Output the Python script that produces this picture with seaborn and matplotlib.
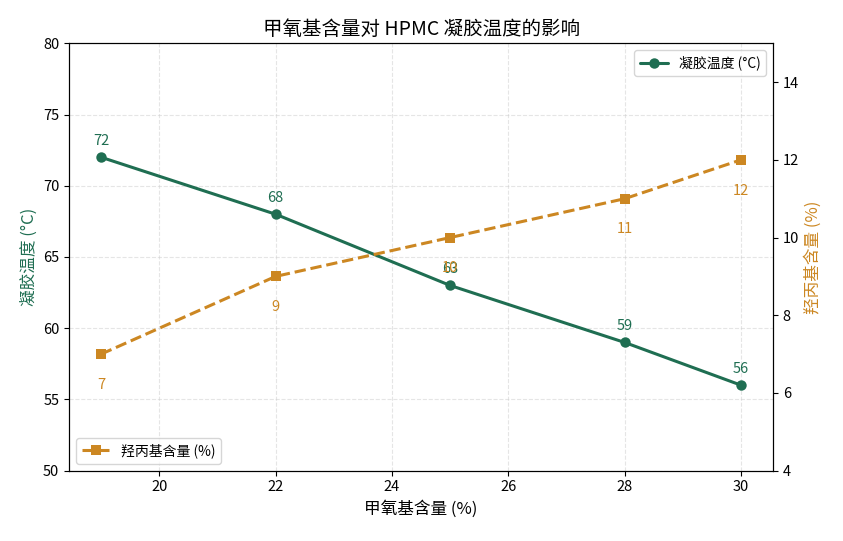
import pandas as pd
import matplotlib.pyplot as plt
import seaborn as sns

methoxy = [19, 22, 25, 28, 30]
gel_temp = [72, 68, 63, 59, 56]
hydroxypropyl = [7, 9, 10, 11, 12]

green = '#1f6e52'
orange = '#cc8722'

sns.set_style('ticks', {'axes.edgecolor': 'black', 'xtick.color': 'black',
                        'ytick.color': 'black', 'text.color': 'black',
                        'axes.labelcolor': 'black'})
plt.rcParams['font.family'] = ['Noto Sans CJK SC', 'DejaVu Sans']
plt.rcParams['axes.unicode_minus'] = False

df = pd.DataFrame({'x': methoxy, 'gel': gel_temp, 'hp': hydroxypropyl})

fig, ax1 = plt.subplots(figsize=(8.43, 5.41), dpi=100)
sns.lineplot(data=df, x='x', y='gel', ax=ax1, color=green, marker='o', markersize=7.5,
             linewidth=2.2, markeredgewidth=0, label='凝胶温度 (°C)')
ax1.set_ylim(50, 80)
ax1.set_xlabel('甲氧基含量 (%)', fontsize=12)
ax1.set_ylabel('凝胶温度 (°C)', fontsize=12, color=green)
ax1.grid(True, linestyle='--', alpha=0.5, color='#cccccc')
ax1.tick_params(labelsize=10.5)
for x, y in zip(methoxy, gel_temp):
    ax1.annotate(str(y), (x, y), textcoords='offset points', xytext=(0, 9),
                 ha='center', fontsize=10.5, color=green)
ax1.legend(loc='upper right', fontsize=10)

ax2 = ax1.twinx()
sns.lineplot(data=df, x='x', y='hp', ax=ax2, color=orange, marker='s', markersize=7.5,
             linewidth=2.2, markeredgewidth=0, linestyle='--', label='羟丙基含量 (%)')
ax2.set_ylim(4, 15)
ax2.set_ylabel('羟丙基含量 (%)', fontsize=12, color=orange)
ax2.tick_params(labelsize=10.5)
for x, y in zip(methoxy, hydroxypropyl):
    ax2.annotate(str(y), (x, y), textcoords='offset points', xytext=(0, -25),
                 ha='center', fontsize=10.5, color=orange)
ax2.legend(loc='lower left', fontsize=10)

ax1.set_title('甲氧基含量对 HPMC 凝胶温度的影响', fontsize=14)
fig.subplots_adjust(left=0.082, right=0.917, top=0.92, bottom=0.13)
fig.savefig('out.png')
